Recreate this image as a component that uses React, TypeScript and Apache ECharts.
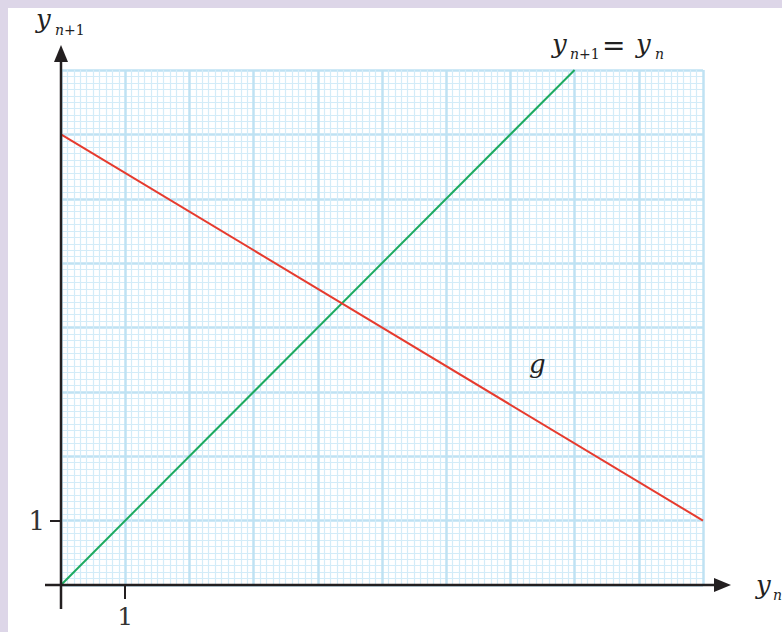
import React, { useEffect, useRef } from "react";
import * as echarts from "echarts";

// Axis ranges and ticks
const xRange = [0, 10];
const yRange = [0, 8];
const labelledTicks = [1];

// Line y_{n+1} = y_n
const identityX = [0, 8];
const identityY = [0, 8];

// Line g
const gX = [0, 10];
const gY = [7, 1];

const SERIF = "DejaVu Serif";

export default function App() {
  const ref = useRef<HTMLDivElement>(null);

  useEffect(() => {
    document.body.style.margin = "0";
    if (!ref.current) return;
    const chart = echarts.init(ref.current, null, { renderer: "svg" });

    const left = 61, top = 70, width = 642, height = 515;
    const bottomY = top + height;
    const axisColor = "#231f20";
    const major = "#bfe2f3";
    const minor = "#d3ecf8";

    const gridAxis = (range: number[]) => ({
      type: "value",
      min: range[0],
      max: range[1],
      interval: 1,
      axisLine: { show: false },
      axisTick: { show: false },
      axisLabel: { show: false },
      splitLine: { show: true, lineStyle: { color: major, width: 2.5 } },
      minorTick: { show: false, splitNumber: 10 },
      minorSplitLine: { show: true, lineStyle: { color: minor, width: 1.2 } },
    });
    const tickAxis = (range: number[], len: number, margin: number, size: number) => ({
      type: "value",
      min: range[0],
      max: range[1],
      interval: 1,
      axisLine: { show: false },
      splitLine: { show: false },
      axisTick: {
        show: true,
        customValues: labelledTicks,
        length: len,
        lineStyle: { color: axisColor, width: 2 },
      },
      axisLabel: {
        customValues: labelledTicks,
        fontFamily: SERIF,
        fontSize: size,
        color: "#333",
        margin,
      },
    });

    const txt = (text: string, x: number, y: number, size: number, italic = true) => ({
      type: "text",
      x,
      y,
      z: 10,
      style: {
        text,
        fontFamily: SERIF,
        fontStyle: italic ? "italic" : "normal",
        fontSize: size,
        fill: "#222",
        verticalAlign: "middle",
        align: "left",
      },
    });

    chart.setOption({
      animation: false,
      backgroundColor: "#ffffff",
      grid: { left, top, width, height, containLabel: false },
      xAxis: [
        { ...gridAxis(xRange), position: "bottom" },
        { ...tickAxis(xRange, 14, 19, 25), position: "bottom" },
      ],
      yAxis: [
        { ...gridAxis(yRange), position: "left" },
        { ...tickAxis(yRange, 11, 16, 26), position: "left" },
      ],
      series: [
        {
          type: "line",
          data: identityX.map((x, i) => [x, identityY[i]]),
          showSymbol: false,
          lineStyle: { color: "#1daa60", width: 2 },
          z: 5,
        },
        {
          type: "line",
          data: gX.map((x, i) => [x, gY[i]]),
          showSymbol: false,
          lineStyle: { color: "#e63b2e", width: 2 },
          z: 5,
        },
      ],
      graphic: [
        { type: "rect", shape: { x: 0, y: 0, width: 782, height: 8 }, style: { fill: "#ddd6e8" }, z: 20 },
        { type: "rect", shape: { x: 0, y: 0, width: 8, height: 632 }, style: { fill: "#ddd6e8" }, z: 20 },
        { type: "line", shape: { x1: 45, y1: bottomY, x2: 718, y2: bottomY }, style: { stroke: axisColor, lineWidth: 2.5 }, z: 10 },
        { type: "polygon", shape: { points: [[731, bottomY], [714, bottomY - 7], [714, bottomY + 7]] }, style: { fill: axisColor }, z: 10 },
        { type: "line", shape: { x1: left, y1: 609, x2: left, y2: 58 }, style: { stroke: axisColor, lineWidth: 2.5 }, z: 10 },
        { type: "polygon", shape: { points: [[left, 45], [left - 7, 62], [left + 7, 62]] }, style: { fill: axisColor }, z: 10 },
        txt("y", 36, 19, 26),
        txt("n", 55, 30, 14),
        txt("+1", 64, 30, 14, false),
        txt("y", 552, 44, 26),
        txt("n", 570, 54, 14),
        txt("+1", 579, 54, 14, false),
        txt("=", 602, 45, 28, false),
        txt("y", 636, 44, 26),
        txt("n", 655, 54, 14),
        txt("g", 529, 364, 26),
        txt("y", 756, 585, 26),
        txt("n", 773, 595, 14),
      ],
    });

    return () => chart.dispose();
  }, []);

  return <div ref={ref} style={{ width: 782, height: 632 }} />;
}
